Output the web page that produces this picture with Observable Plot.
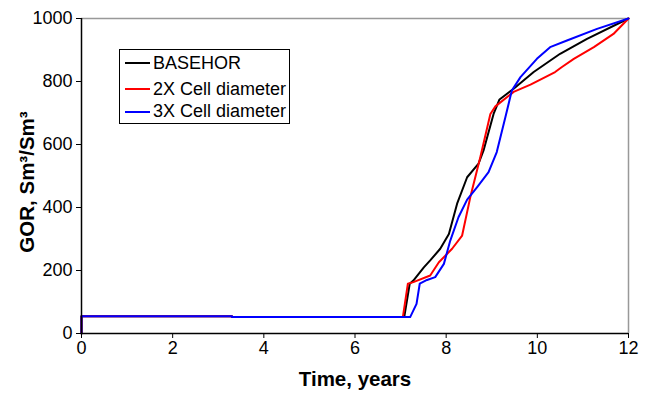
<!DOCTYPE html>
<html>
<head>
<meta charset="utf-8">
<script src="https://cdn.jsdelivr.net/npm/d3@7"></script>
<script src="https://cdn.jsdelivr.net/npm/@observablehq/plot@0.6"></script>
<style>
  body { margin: 0; background: #fff; }
  #wrap { position: relative; width: 649px; height: 396px; font-family: "Liberation Sans", Arial, sans-serif; }
  #legend { position: absolute; left: 119px; top: 49px; width: 171px; height: 75px; border: 1px solid #000; background: #fff; box-sizing: border-box; font-size: 18px; color: #000; }
  .row { position: absolute; left: 5px; height: 20px; display: flex; align-items: center; white-space: nowrap; }
  .sw { width: 25px; height: 0; border-top: 2px solid; margin-right: 3px; }
</style>
</head>
<body>
<div id="wrap"></div>
<script>
const seriesNames = ["BASEHOR", "2X Cell diameter", "3X Cell diameter"];
const seriesColors = ["#000000", "#ff0000", "#0000ff"];

const baseTime = [0, 0, 3.3, 3.3, 7.08, 7.2, 7.28, 7.51, 7.65, 7.87, 8.06, 8.24, 8.46, 8.71, 8.82, 9.04, 9.17, 9.48, 9.92, 10.5, 11.09, 12];
const baseGor  = [0, 55, 55, 52, 52, 158, 168, 210, 232, 269, 316, 412, 496, 539, 581, 697, 743, 777, 830, 888, 935, 1000];

const x2Time = [0, 0, 3.3, 3.3, 7.05, 7.16, 7.28, 7.65, 7.84, 8.13, 8.35, 8.53, 8.75, 8.97, 9.08, 9.48, 9.85, 10.39, 10.54, 10.8, 11.24, 11.67, 12];
const x2Gor  = [0, 55, 55, 52, 52, 158, 163, 184, 226, 269, 311, 433, 560, 697, 721, 767, 790, 830, 846, 872, 909, 951, 1000];

const x3Time = [0, 0, 3.3, 3.3, 7.21, 7.35, 7.42, 7.58, 7.76, 7.95, 8.09, 8.27, 8.46, 8.68, 8.93, 9.11, 9.3, 9.44, 9.63, 9.99, 10.28, 10.65, 11.31, 12];
const x3Gor  = [0, 55, 55, 52, 52, 94, 158, 170, 179, 221, 295, 369, 425, 465, 512, 576, 687, 771, 814, 872, 909, 930, 967, 1000];

const xTicks = [0, 2, 4, 6, 8, 10, 12];
const yTicks = [0, 200, 400, 600, 800, 1000];

const toRows = (t, v, s) => t.map((d, i) => ({t: d, v: v[i], s}));
const data = [
  ...toRows(baseTime, baseGor, seriesNames[0]),
  ...toRows(x2Time, x2Gor, seriesNames[1]),
  ...toRows(x3Time, x3Gor, seriesNames[2])
];

const chart = Plot.plot({
  width: 649,
  height: 396,
  marginLeft: 81,
  marginRight: 21,
  marginTop: 18,
  marginBottom: 63,
  style: { fontFamily: "Liberation Sans, Arial, sans-serif", fontSize: "18px", color: "#000", background: "#fff" },
  x: { domain: [0, 12], ticks: xTicks },
  y: { domain: [0, 1000], ticks: yTicks },
  color: { domain: seriesNames, range: seriesColors },
  marks: [
    Plot.ruleY([1000], { stroke: "#999", strokeWidth: 1.5 }),
    Plot.ruleX([12], { stroke: "#999", strokeWidth: 1.5 }),
    Plot.line(data, { x: "t", y: "v", z: "s", stroke: "s", strokeWidth: 2 }),
    Plot.ruleX([0], { stroke: "#000", strokeWidth: 1.5 }),
    Plot.ruleY([0], { stroke: "#000", strokeWidth: 1.5 }),
    Plot.axisX({ ticks: xTicks, tickSize: 5, tickPadding: 3, label: null, fontSize: 18, stroke: "#000", tickFormat: d3.format("d") }),
    Plot.axisY({ ticks: yTicks, tickSize: 5, tickPadding: 4, label: null, fontSize: 18, stroke: "#000", tickFormat: d3.format("d") }),
    Plot.text(["Time, years"], { frameAnchor: "bottom", textAnchor: "middle", dy: 52, fontSize: 20.5, fontWeight: "bold", fill: "#000" }),
    Plot.text(["GOR, Sm³/Sm³"], { frameAnchor: "left", textAnchor: "middle", lineAnchor: "middle", dx: -54, dy: 6, rotate: -90, fontSize: 20.5, fontWeight: "bold", fill: "#000" })
  ]
});

const wrap = document.getElementById("wrap");
wrap.appendChild(chart);

const legend = document.createElement("div");
legend.id = "legend";
const rowTops = [3, 29, 51.5];
seriesNames.forEach((name, i) => {
  const row = document.createElement("div");
  row.className = "row";
  row.style.top = rowTops[i] + "px";
  const sw = document.createElement("span");
  sw.className = "sw";
  sw.style.borderTopColor = seriesColors[i];
  const lab = document.createElement("span");
  lab.textContent = name;
  row.appendChild(sw);
  row.appendChild(lab);
  legend.appendChild(row);
});
wrap.appendChild(legend);
</script>
</body>
</html>
